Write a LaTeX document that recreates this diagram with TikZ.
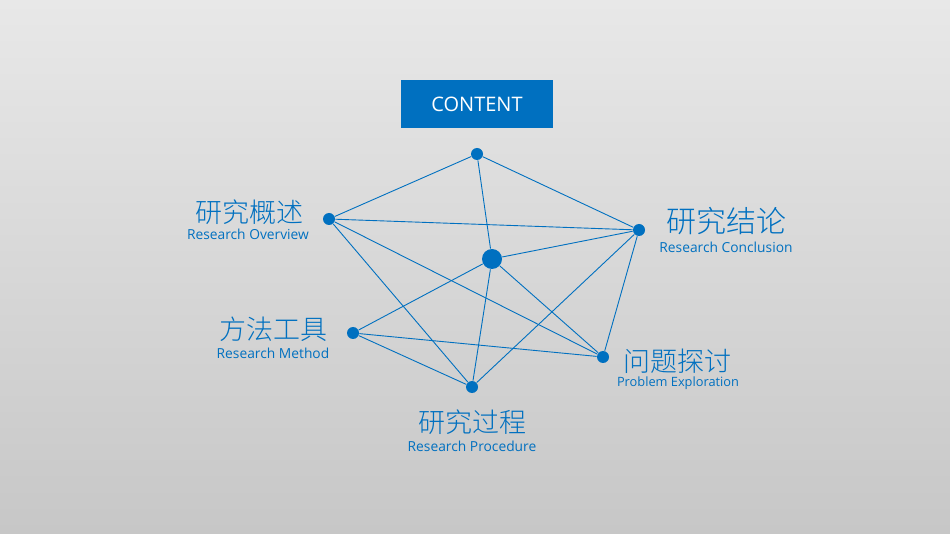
\documentclass[tikz,border=0pt]{standalone}
\usepackage{fontspec}
\setmainfont{Open Sans}
\newfontfamily\cjk{Noto Sans CJK SC Light}
\definecolor{mainblue}{RGB}{0,112,192}
\begin{document}
\begin{tikzpicture}[x=1pt,y=-1pt, line width=0.9pt,
  dot/.style={circle,fill=mainblue,inner sep=0pt,minimum size=12pt},
  bigdot/.style={circle,fill=mainblue,inner sep=0pt,minimum size=20pt},
  cn/.style={text=mainblue,font=\cjk\fontsize{27}{28}\selectfont,inner sep=0pt},
  en/.style={text=mainblue,font=\fontsize{13.8}{14}\selectfont,inner sep=0pt}]
\shade[top color=black!9,bottom color=black!22] (0,0) rectangle (950,534);
\useasboundingbox (0,0) rectangle (950,534);
\node[fill=mainblue,text=white,minimum width=152pt,minimum height=48pt,font=\fontsize{20}{22}\selectfont] (title) at (477,104) {CONTENT};
% points
\node[dot] (top) at (477,154) {};
\node[dot] (ov) at (329,219) {};
\node[dot] (co) at (639,230) {};
\node[bigdot] (mid) at (492,259) {};
\node[dot] (me) at (353,333) {};
\node[dot] (pb) at (603,357) {};
\node[dot] (pr) at (472,387) {};
% links
\foreach \a/\b in {top/ov,top/co,top/mid,ov/co,ov/pr,ov/pb,mid/co,mid/me,mid/pr,mid/pb,co/pr,co/pb,me/pb,me/pr}
  \draw[mainblue] (\a) -- (\b);
% labels
\node[cn] (ovcn) at (249,212) {研究概述};
\node[en] (oven) at (248,234) {Research Overview};
\node[cn,font=\cjk\fontsize{30}{31}\selectfont] (cocn) at (726,221) {研究结论};
\node[en] (coen) at (726,247) {Research Conclusion};
\node[cn] (mecn) at (273,329) {方法工具};
\node[en] (meen) at (273,353) {Research Method};
\node[cn] (pbcn) at (677,361) {问题探讨};
\node[en,font=\fontsize{12.8}{13}\selectfont] (pben) at (678,383) {Problem Exploration};
\node[cn] (prcn) at (472,422) {研究过程};
\node[en] (pren) at (472,446) {Research Procedure};
\end{tikzpicture}
\end{document}
